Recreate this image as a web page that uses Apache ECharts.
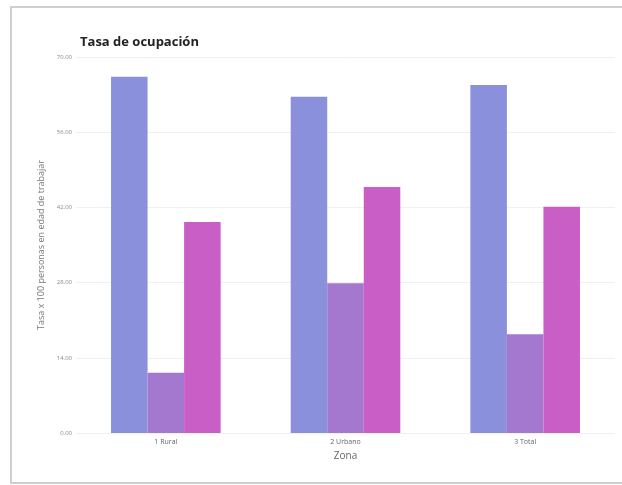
<!DOCTYPE html>
<html>
<head>
<meta charset="utf-8">
<script src="https://cdn.jsdelivr.net/npm/echarts@6/dist/echarts.min.js"></script>
<style>
  html, body { margin: 0; padding: 0; background: #fff; }
  #chart { width: 622px; height: 485px; }
</style>
</head>
<body>
<div id="chart"></div>
<script>
// zonas y tasas (x 100 personas en edad de trabajar)
var zonas = ["1 Rural", "2 Urbano", "3 Total"];
var serieA = [66.3, 62.6, 64.8];
var serieB = [11.2, 27.9, 18.4];
var serieC = [39.3, 45.8, 42.1];
var yTicks = { min: 0, max: 70, interval: 14 };

var font = '"Open Sans", "Noto Sans", sans-serif';
var colors = ["#8b90dc", "#a478cf", "#c95fc6"];

var chart = echarts.init(document.getElementById("chart"), null, { renderer: "canvas" });

function barSeries(name, data, i) {
  return {
    name: name, type: "bar", data: data,
    barGap: "0%", barCategoryGap: "39%",
    itemStyle: { color: colors[i] }
  };
}

chart.setOption({
  animation: false,
  backgroundColor: "#fff",
  title: {
    text: "Tasa de ocupación", left: 75, top: 31,
    textStyle: { fontFamily: font, fontWeight: "bold", fontSize: 13, color: "#222" }
  },
  graphic: [{
    type: "rect", shape: { x: 11, y: 7, width: 620, height: 476 },
    style: { fill: "none", stroke: "#cfcfcf", lineWidth: 2 }, silent: true
  }],
  grid: { left: 76, right: 7, top: 57, bottom: 52 },
  xAxis: {
    type: "category", data: zonas,
    name: "Zona", nameLocation: "middle", nameGap: 18,
    nameTextStyle: { fontFamily: font, fontSize: 10, color: "#666" },
    axisLine: { show: false }, axisTick: { show: false },
    axisLabel: { fontFamily: font, fontSize: 7, color: "#666", margin: 5 }
  },
  yAxis: {
    type: "value", min: yTicks.min, max: yTicks.max, interval: yTicks.interval,
    name: "Tasa x 100 personas en edad de trabajar", nameLocation: "middle", nameGap: 28,
    nameTextStyle: { fontFamily: font, fontSize: 9, color: "#777" },
    axisLine: { show: false }, axisTick: { show: false },
    axisLabel: { fontFamily: font, fontSize: 6, color: "#888", margin: 4,
      formatter: function (v) { return v.toFixed(2); } },
    splitLine: { lineStyle: { color: "#f0f0f0" } }
  },
  series: [
    barSeries("Tasa global de participación", serieA, 0),
    barSeries("Tasa de desempleo", serieB, 1),
    barSeries("Tasa de ocupación", serieC, 2)
  ]
});
</script>
</body>
</html>
